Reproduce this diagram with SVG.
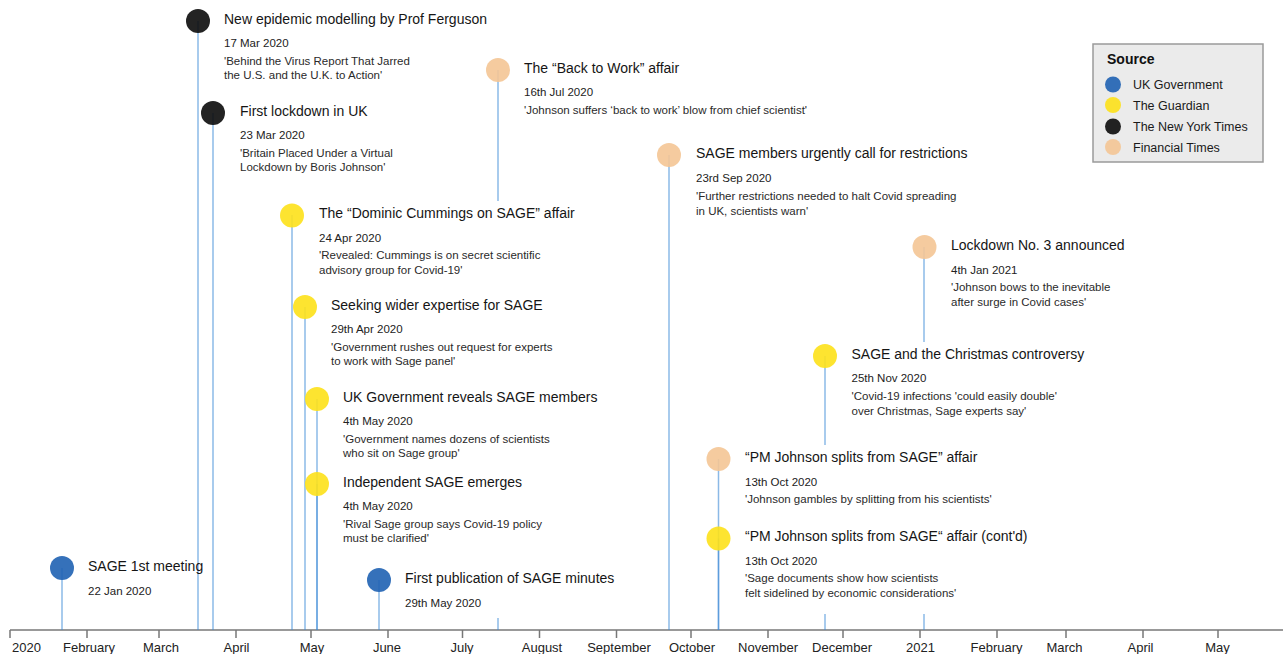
<svg xmlns="http://www.w3.org/2000/svg" width="1283" height="654" viewBox="0 0 1283 654">
<style>
text{font-family:"Liberation Sans",Arial,Helvetica,sans-serif;}
.t{font-size:14px;fill:#151515;}
.d{font-size:11.5px;fill:#222;}
.q{font-size:11.5px;fill:#2a2a2a;}
.ax{font-size:13px;fill:#222;text-anchor:middle;}
.stem{stroke:#3d8bd6;stroke-opacity:0.6;stroke-width:1.5;fill:none;}
.dot{fill-opacity:0.9;}
.gov{fill:#1f62b2;}
.gua{fill:#fde11a;}
.nyt{fill:#0b0b0b;}
.ft{fill:#f4c595;}
.tick{stroke:#777;stroke-width:1.5;}
.lg{font-size:12.5px;fill:#1a1a1a;}
</style>
<rect width="1283" height="654" fill="#fff"/>

<g id="axis">
<line x1="10" y1="630" x2="1283" y2="630" class="tick"/>
<line x1="10" y1="630" x2="10" y2="638" class="tick"/>
<line x1="87" y1="630" x2="87" y2="638" class="tick"/>
<line x1="159" y1="630" x2="159" y2="638" class="tick"/>
<line x1="236" y1="630" x2="236" y2="638" class="tick"/>
<line x1="311" y1="630" x2="311" y2="638" class="tick"/>
<line x1="388" y1="630" x2="388" y2="638" class="tick"/>
<line x1="462.5" y1="630" x2="462.5" y2="638" class="tick"/>
<line x1="539.5" y1="630" x2="539.5" y2="638" class="tick"/>
<line x1="616.5" y1="630" x2="616.5" y2="638" class="tick"/>
<line x1="691" y1="630" x2="691" y2="638" class="tick"/>
<line x1="768" y1="630" x2="768" y2="638" class="tick"/>
<line x1="843" y1="630" x2="843" y2="638" class="tick"/>
<line x1="920" y1="630" x2="920" y2="638" class="tick"/>
<line x1="997" y1="630" x2="997" y2="638" class="tick"/>
<line x1="1066" y1="630" x2="1066" y2="638" class="tick"/>
<line x1="1143" y1="630" x2="1143" y2="638" class="tick"/>
<line x1="1218" y1="630" x2="1218" y2="638" class="tick"/>
<text x="12" y="652" class="ax" style="text-anchor:start">2020</text>
<text x="89" y="652" class="ax">February</text>
<text x="161" y="652" class="ax">March</text>
<text x="236.5" y="652" class="ax">April</text>
<text x="312" y="652" class="ax">May</text>
<text x="387" y="652" class="ax">June</text>
<text x="462" y="652" class="ax">July</text>
<text x="542" y="652" class="ax">August</text>
<text x="619" y="652" class="ax">September</text>
<text x="692" y="652" class="ax">October</text>
<text x="768" y="652" class="ax">November</text>
<text x="842" y="652" class="ax">December</text>
<text x="920.5" y="652" class="ax">2021</text>
<text x="996.5" y="652" class="ax">February</text>
<text x="1064.5" y="652" class="ax">March</text>
<text x="1140.5" y="652" class="ax">April</text>
<text x="1217.5" y="652" class="ax">May</text>
</g>

<g id="connectors">
<line class="stem" x1="62" y1="568" x2="62" y2="630"/>
<line class="stem" x1="198" y1="21" x2="198" y2="630"/>
<line class="stem" x1="213" y1="113" x2="213" y2="630"/>
<line class="stem" x1="292" y1="215" x2="292" y2="630"/>
<line class="stem" x1="305" y1="307" x2="305" y2="630"/>
<line class="stem" x1="317" y1="399" x2="317" y2="630"/>
<line class="stem" x1="317" y1="484" x2="317" y2="630"/>
<line class="stem" x1="379" y1="580" x2="379" y2="630"/>
<line class="stem" x1="498" y1="70" x2="498" y2="201"/>
<line class="stem" x1="498" y1="618" x2="498" y2="630"/>
<line class="stem" x1="669" y1="155" x2="669" y2="630"/>
<line class="stem" x1="718.5" y1="459" x2="718.5" y2="630"/>
<line class="stem" x1="718.5" y1="538.5" x2="718.5" y2="630"/>
<line class="stem" x1="825" y1="356" x2="825" y2="445"/>
<line class="stem" x1="825" y1="614" x2="825" y2="630"/>
<line class="stem" x1="924" y1="247" x2="924" y2="342"/>
<line class="stem" x1="924" y1="614" x2="924" y2="630"/>
</g>

<g id="ev-sage1">
<circle class="dot gov" cx="62" cy="568" r="12"/>
<text class="t" x="88" y="571">SAGE 1st meeting</text>
<text class="d" x="88" y="595">22 Jan 2020</text>
</g>

<g id="ev-ferguson">
<circle class="dot nyt" cx="198" cy="21" r="12"/>
<text class="t" x="224" y="24">New epidemic modelling by Prof Ferguson</text>
<text class="d" x="224" y="47">17 Mar 2020</text>
<text class="q" x="224" y="65">'Behind the Virus Report That Jarred</text>
<text class="q" x="224" y="79">the U.S. and the U.K. to Action'</text>
</g>

<g id="ev-lockdown1">
<circle class="dot nyt" cx="213" cy="113" r="12"/>
<text class="t" x="240" y="115.5">First lockdown in UK</text>
<text class="d" x="240" y="139">23 Mar 2020</text>
<text class="q" x="240" y="157">'Britain Placed Under a Virtual</text>
<text class="q" x="240" y="171">Lockdown by Boris Johnson'</text>
</g>

<g id="ev-cummings">
<circle class="dot gua" cx="292" cy="215.5" r="12"/>
<text class="t" x="319" y="218">The “Dominic Cummings on SAGE” affair</text>
<text class="d" x="319" y="242">24 Apr 2020</text>
<text class="q" x="319" y="259">'Revealed: Cummings is on secret scientific</text>
<text class="q" x="319" y="273.5">advisory group for Covid-19'</text>
</g>

<g id="ev-seeking">
<circle class="dot gua" cx="305" cy="307" r="12"/>
<text class="t" x="331" y="310">Seeking wider expertise for SAGE</text>
<text class="d" x="331" y="333">29th Apr 2020</text>
<text class="q" x="331" y="351">'Government rushes out request for experts</text>
<text class="q" x="331" y="365">to work with Sage panel'</text>
</g>

<g id="ev-reveals">
<circle class="dot gua" cx="317" cy="399" r="12"/>
<text class="t" x="343" y="401.5">UK Government reveals SAGE members</text>
<text class="d" x="343" y="425">4th May 2020</text>
<text class="q" x="343" y="443">'Government names dozens of scientists</text>
<text class="q" x="343" y="457">who sit on Sage group'</text>
</g>

<g id="ev-indie">
<circle class="dot gua" cx="317" cy="484" r="12"/>
<text class="t" x="343" y="486.5">Independent SAGE emerges</text>
<text class="d" x="343" y="510">4th May 2020</text>
<text class="q" x="343" y="528">'Rival Sage group says Covid-19 policy</text>
<text class="q" x="343" y="542">must be clarified'</text>
</g>

<g id="ev-minutes">
<circle class="dot gov" cx="379" cy="580" r="12"/>
<text class="t" x="405" y="583">First publication of SAGE minutes</text>
<text class="d" x="405" y="607">29th May 2020</text>
</g>

<g id="ev-backtowork">
<circle class="dot ft" cx="498" cy="70" r="12"/>
<text class="t" x="524" y="72.5">The “Back to Work” affair</text>
<text class="d" x="524" y="96">16th Jul 2020</text>
<text class="q" x="524" y="113.5">'Johnson suffers ‘back to work’ blow from chief scientist'</text>
</g>

<g id="ev-urgent">
<circle class="dot ft" cx="669" cy="155" r="12"/>
<text class="t" x="696" y="157.5">SAGE members urgently call for restrictions</text>
<text class="d" x="696" y="182">23rd Sep 2020</text>
<text class="q" x="696" y="200">'Further restrictions needed to halt Covid spreading</text>
<text class="q" x="696" y="214.5">in UK, scientists warn'</text>
</g>

<g id="ev-split">
<circle class="dot ft" cx="718.5" cy="459" r="12"/>
<text class="t" x="745" y="462">“PM Johnson splits from SAGE” affair</text>
<text class="d" x="745" y="485.5">13th Oct 2020</text>
<text class="q" x="745" y="502.5">'Johnson gambles by splitting from his scientists'</text>
</g>

<g id="ev-split2">
<circle class="dot gua" cx="718.5" cy="538.5" r="12"/>
<text class="t" x="745" y="541">“PM Johnson splits from SAGE“ affair (cont'd)</text>
<text class="d" x="745" y="564.5">13th Oct 2020</text>
<text class="q" x="745" y="582">'Sage documents show how scientists</text>
<text class="q" x="745" y="596.5">felt sidelined by economic considerations'</text>
</g>

<g id="ev-christmas">
<circle class="dot gua" cx="825" cy="356" r="12"/>
<text class="t" x="851.5" y="358.5">SAGE and the Christmas controversy</text>
<text class="d" x="851.5" y="382">25th Nov 2020</text>
<text class="q" x="851.5" y="400">'Covid-19 infections 'could easily double'</text>
<text class="q" x="851.5" y="414.5">over Christmas, Sage experts say'</text>
</g>

<g id="ev-lockdown3">
<circle class="dot ft" cx="924.5" cy="247" r="12"/>
<text class="t" x="951" y="249.5">Lockdown No. 3 announced</text>
<text class="d" x="951" y="273.5">4th Jan 2021</text>
<text class="q" x="951" y="291">'Johnson bows to the inevitable</text>
<text class="q" x="951" y="305.5">after surge in Covid cases'</text>
</g>

<g id="legend">
<rect x="1093" y="44" width="170" height="118" fill="#ebebeb" stroke="#9a9a9a" stroke-width="1.5"/>
<text x="1107" y="63.5" style="font-size:14px;font-weight:bold;fill:#111">Source</text>
<circle class="dot gov" cx="1113" cy="84.5" r="8"/>
<text class="lg" x="1133" y="89">UK Government</text>
<circle class="dot gua" cx="1113" cy="105" r="8"/>
<text class="lg" x="1133" y="109.5">The Guardian</text>
<circle class="dot nyt" cx="1113" cy="126.5" r="8"/>
<text class="lg" x="1133" y="131">The New York Times</text>
<circle class="dot ft" cx="1113" cy="147" r="8"/>
<text class="lg" x="1133" y="151.5">Financial Times</text>
</g>
</svg>
